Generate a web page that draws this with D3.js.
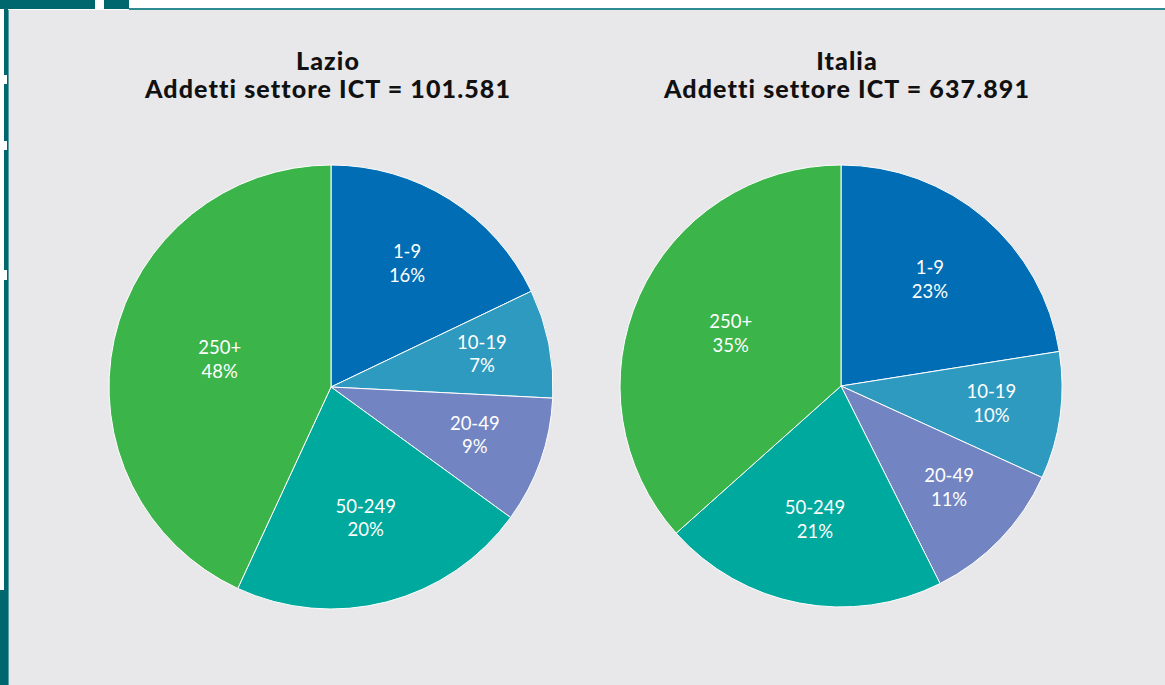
<!DOCTYPE html>
<html>
<head>
<meta charset="utf-8">
<script src="https://cdn.jsdelivr.net/npm/d3@7/dist/d3.min.js"></script>
<style>
  html, body { margin: 0; padding: 0; background: #ffffff; }
  svg { display: block; }
</style>
</head>
<body>
<svg id="chart" width="1165" height="685"></svg>
<script>
// ---- data ----
const categories = ["1-9", "10-19", "20-49", "50-249", "250+"];
const lazioValues = [17.9, 7.9, 9.2, 21.9, 43.1];
const lazioLabels = ["16%", "7%", "9%", "20%", "48%"];
const italiaValues = [22.5, 9.3, 10.8, 20.8, 36.6];
const italiaLabels = ["23%", "10%", "11%", "21%", "35%"];
const titles = [
  ["Lazio", "Addetti settore ICT = 101.581"],
  ["Italia", "Addetti settore ICT = 637.891"]
];
const colors = ["#006db5", "#2f9ac0", "#7285c2", "#00a99d", "#3bb44a"];

// ---- layout ----
const svg = d3.select("#chart");
const W = 1165, H = 685;
const teal = "#00676f";

// frame decorations
svg.append("rect").attr("x", 0).attr("y", 0).attr("width", W).attr("height", H).attr("fill", "#ffffff");
svg.append("rect").attr("x", 8).attr("y", 10).attr("width", W - 8).attr("height", H - 10).attr("fill", "#e8e8ea");
svg.append("rect").attr("x", 0).attr("y", 0).attr("width", 95).attr("height", 9).attr("fill", teal);
svg.append("rect").attr("x", 104).attr("y", 0).attr("width", 25).attr("height", 9).attr("fill", teal);
svg.append("rect").attr("x", 129).attr("y", 8).attr("width", W - 129).attr("height", 2).attr("fill", "#2e8b92");
svg.append("rect").attr("x", 4).attr("y", 0).attr("width", 4).attr("height", H).attr("fill", teal);
svg.append("rect").attr("x", 0).attr("y", 590).attr("width", 8).attr("height", H - 590).attr("fill", teal);
[[75, 9], [141, 9], [270, 10]].forEach(([y, h]) => {
  svg.append("rect").attr("x", 0).attr("y", y).attr("width", 7).attr("height", h).attr("fill", "#ffffff");
});
svg.append("rect").attr("x", 8).attr("y", 10).attr("width", 1).attr("height", H - 10).attr("fill", "#5a9ea3");

const color = d3.scaleOrdinal().domain(categories).range(colors);
const pie = d3.pie().sort(null).value(d => d.v);

const panels = [
  { cx: 331, cy: 387, r: 222, tx: 328, values: lazioValues, labels: lazioLabels, title: titles[0] },
  { cx: 841, cy: 386, r: 221, tx: 847, values: italiaValues, labels: italiaLabels, title: titles[1] }
];

panels.forEach(p => {
  const g = svg.append("g").attr("transform", `translate(${p.cx},${p.cy})`);
  const data = categories.map((c, i) => ({ c, v: p.values[i], lab: p.labels[i] }));
  const arcs = pie(data);
  const arc = d3.arc().innerRadius(0).outerRadius(p.r);
  g.selectAll("path").data(arcs).join("path")
    .attr("d", arc)
    .attr("fill", d => color(d.data.c))
    .attr("stroke", "#ffffff")
    .attr("stroke-width", 1)
    .attr("stroke-linejoin", "round");

  arcs.forEach(d => {
    const span = (d.endAngle - d.startAngle) * 180 / Math.PI;
    const f = 0.734 - 0.00142 * span;
    const rr = p.r * f;
    const a = (d.startAngle + d.endAngle) / 2;
    const x = Math.sin(a) * rr, y = -Math.cos(a) * rr;
    const t = g.append("text")
      .attr("x", x).attr("y", y)
      .attr("text-anchor", "middle")
      .attr("fill", "#ffffff")
      .attr("font-family", "Lato, 'Open Sans', sans-serif")
      .attr("font-weight", 400)
      .attr("font-size", 18.5);
    t.append("tspan").attr("x", x).attr("dy", "-0.44em").text(d.data.c);
    t.append("tspan").attr("x", x).attr("dy", "1.28em").text(d.data.lab);
  });

  const tt = svg.append("text")
    .attr("text-anchor", "middle")
    .attr("font-family", "Lato, 'DejaVu Sans', sans-serif")
    .attr("font-weight", 900)
    .attr("font-size", 25)
    .attr("letter-spacing", 1.1)
    .attr("fill", "#111111");
  tt.append("tspan").attr("x", p.tx).attr("y", 70).text(p.title[0]);
  tt.append("tspan").attr("x", p.tx).attr("y", 98).text(p.title[1]);
});
</script>
</body>
</html>
